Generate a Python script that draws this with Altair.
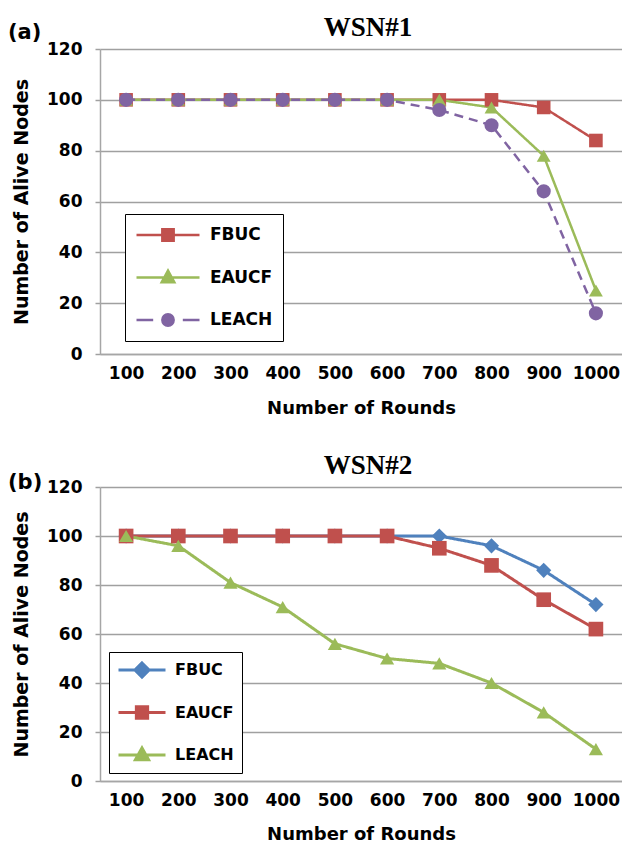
import altair as alt
import pandas as pd

rounds = [100, 200, 300, 400, 500, 600, 700, 800, 900, 1000]
series_names = ["FBUC", "EAUCF", "LEACH"]

# Panel (a) WSN#1
a_fbuc = [100, 100, 100, 100, 100, 100, 100, 100, 97, 84]
a_eaucf = [100, 100, 100, 100, 100, 100, 100, 97, 78, 25]
a_leach = [100, 100, 100, 100, 100, 100, 96, 90, 64, 16]

# Panel (b) WSN#2
b_fbuc = [100, 100, 100, 100, 100, 100, 100, 96, 86, 72]
b_eaucf = [100, 100, 100, 100, 100, 100, 95, 88, 74, 62]
b_leach = [100, 96, 81, 71, 56, 50, 48, 40, 28, 13]

y_ticks = [0, 20, 40, 60, 80, 100, 120]

RED, GREEN, PURPLE, BLUE = "#C0504D", "#9BBB59", "#8064A2", "#4F81BD"
FONT = "DejaVu Sans"


def make_df(cols):
    rows = []
    for name, vals in zip(series_names, cols):
        for r, v in zip(rounds, vals):
            rows.append({"round": r, "alive": v, "series": name})
    return pd.DataFrame(rows)


def pick(mapping):
    e = "datum.value == 'FBUC' ? '%s' : datum.value == 'EAUCF' ? '%s' : '%s'"
    return {"expr": e % (mapping[0], mapping[1], mapping[2])}


def panel(df, title, tag, tag_y, colors, dashes, shapes, sizes, stroke_w,
          width, height, xtitle_pad, leg):
    color_scale = alt.Scale(domain=series_names, range=colors)
    x = alt.X(
        "round:O", sort=rounds, scale=alt.Scale(type="point", padding=0.5),
        axis=alt.Axis(title="Number of Rounds", labelAngle=0, ticks=False,
                      tickSize=0, labelPadding=11, titlePadding=xtitle_pad,
                      grid=False),
    )
    y = alt.Y(
        "alive:Q", scale=alt.Scale(domain=[0, 120], nice=False),
        axis=alt.Axis(values=y_ticks, title="Number of Alive Nodes", tickSize=5,
                      labelPadding=13, titlePadding=15, grid=True),
    )
    base = alt.Chart(df)
    lines = base.mark_line(strokeWidth=stroke_w).encode(
        x=x, y=y,
        color=alt.Color("series:N", scale=color_scale, legend=None),
        strokeDash=alt.StrokeDash("series:N",
                                  scale=alt.Scale(domain=series_names, range=dashes),
                                  legend=None),
    )
    legend = alt.Legend(
        title=None, orient="none", legendX=leg["x"], legendY=leg["y"],
        symbolType=pick(leg["paths"]), symbolSize=leg["size"],
        symbolStrokeWidth=stroke_w,
        symbolFillColor=pick(colors), symbolStrokeColor=pick(colors),
        symbolOpacity=1, symbolOffset=0,
        clipHeight=leg["clip"], rowPadding=leg["row"], padding=leg["pad"],
        labelOffset=leg["loff"], labelFont=FONT, labelFontSize=leg["fs"],
        labelFontWeight="bold", labelColor="black",
        strokeColor="black", fillColor="white",
    )
    points = base.mark_point(filled=True, opacity=1).encode(
        x=x, y=y,
        color=alt.Color("series:N", scale=color_scale, legend=legend),
        shape=alt.Shape("series:N",
                        scale=alt.Scale(domain=series_names, range=shapes),
                        legend=None),
        size=alt.Size("series:N",
                      scale=alt.Scale(domain=series_names, range=sizes),
                      legend=None),
    )
    tag_layer = alt.Chart(pd.DataFrame({"tag": [tag]})).mark_text(
        font=FONT, fontWeight="bold", fontSize=21, align="left",
        baseline="middle", color="black",
    ).encode(text="tag:N", x=alt.value(-92), y=alt.value(tag_y))
    title_layer = alt.Chart(pd.DataFrame({"title": [title]})).mark_text(
        font="Liberation Serif", fontWeight="bold", fontSize=27, align="center",
        baseline="middle", color="black",
    ).encode(text="title:N", x=alt.value(width / 2 + 7), y=alt.value(-21))

    return alt.layer(lines, points, tag_layer, title_layer).resolve_legend(
        color="independent"
    ).properties(width=width, height=height)


top_paths = [
    "M-1,0H1M-0.18,-0.18H0.18V0.18H-0.18Z",
    "M-1,0H1M0,-0.22L0.2,0.15H-0.2Z",
    "M-1,0H-0.47M0.47,0H1M-0.18,0A0.18 0.18 0 1 0 0.18,0A0.18 0.18 0 1 0 -0.18,0Z",
]
bot_paths = [
    "M-1,0H1M0,-0.3L0.3,0L0,0.3L-0.3,0Z",
    "M-1,0H1M-0.24,-0.24H0.24V0.24H-0.24Z",
    "M-1,0H1M0,-0.3L0.28,0.2H-0.28Z",
]

top = panel(
    make_df([a_fbuc, a_eaucf, a_leach]), "WSN#1", "(a)", -16,
    [RED, GREEN, PURPLE], [[1, 0], [1, 0], [9, 6]],
    ["square", "triangle-up", "circle"], [185, 200, 160], 2.5, 522, 305, 18,
    {"x": 25, "y": 165, "paths": top_paths, "size": 3969, "clip": 22,
     "row": 20.5, "pad": 10, "loff": 9, "fs": 17},
)
bottom = panel(
    make_df([b_fbuc, b_eaucf, b_leach]), "WSN#2", "(b)", -4,
    [BLUE, RED, GREEN], [[1, 0], [1, 0], [1, 0]],
    ["diamond", "square", "triangle-up"], [230, 200, 250], 3, 522, 294, 17,
    {"x": 9, "y": 165, "paths": bot_paths, "size": 2209, "clip": 20,
     "row": 22.5, "pad": 8, "loff": 8, "fs": 16},
)

chart = alt.vconcat(top, bottom, spacing=35).resolve_scale(
    color="independent", shape="independent", size="independent",
    strokeDash="independent",
).resolve_legend(
    color="independent", shape="independent", size="independent",
    strokeDash="independent",
).properties(
    padding={"left": 0, "top": 6, "right": 0, "bottom": 0},
    background="white",
).configure_view(stroke=None).configure_axis(
    labelFont=FONT, labelFontSize=17, labelFontWeight="bold", labelColor="black",
    titleFont=FONT, titleFontSize=19, titleFontWeight="bold", titleColor="black",
    domainColor="#A6A6A6", domainWidth=1.5, gridColor="#A0A0A0", gridWidth=1.5,
    tickColor="#A0A0A0", tickWidth=1.5,
).configure_axisX(titleFontSize=18)

chart.save("out.html", embed_options={"renderer": "svg", "actions": False})
